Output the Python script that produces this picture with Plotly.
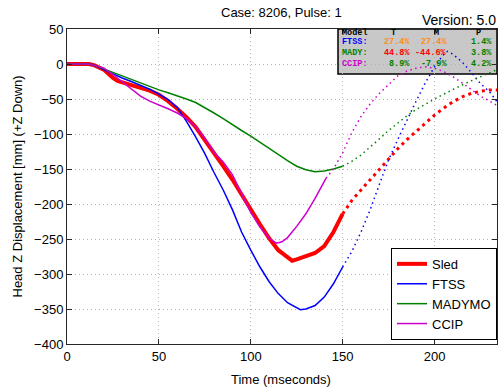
import plotly.graph_objects as go

# ---------------- data ----------------
sled_t = [0, 5, 10, 12, 15, 17.5, 20, 22.5, 25, 27.5, 30, 35, 40, 45, 50, 55, 60, 65, 70, 75, 80, 85, 90, 95, 100,
          105, 110, 113, 115, 118, 120, 122.5, 125, 130, 135, 140, 142, 145, 150,
          155, 160, 165, 170, 175, 180, 185, 190, 195, 200, 205, 210, 215, 220, 225, 230, 234]
sled_z = [0, 0, 0, 0, -2, -5, -8, -14, -20, -24, -26, -29, -33, -38, -44, -53, -64, -76, -90, -108, -128, -146, -165, -187, -207,
          -229, -249, -260, -266, -272, -276, -281, -279, -274, -270, -260, -252, -240, -214,
          -195, -180, -165, -150, -135, -121, -108, -96, -84, -73, -63, -54, -47, -42, -39, -37, -37]
sled_end = 150

ftss_t = [0, 10, 12, 15, 20, 25, 30, 35, 40, 45, 50, 55, 60, 65, 70, 75, 80, 85, 90, 95, 100, 105, 110, 115, 120,
          125, 127, 130, 135, 140, 145, 150,
          155, 160, 165, 170, 175, 180, 185, 190, 195, 200, 205, 207, 210, 215, 220, 225, 230, 234]
ftss_z = [0, 0, 0, -2, -8, -15, -20, -25, -30, -36, -43, -51, -62, -82, -104, -128, -155, -180, -208, -240, -266, -290, -311, -328, -341,
          -349, -351, -350, -345, -333, -314, -290,
          -268, -240, -208, -172, -137, -108, -80, -53, -27, -4, 14, 18, 14, 3, -12, -28, -40, -54]
ftss_end = 150

mady_t = [0, 12, 15, 20, 25, 30, 35, 40, 45, 50, 55, 60, 65, 70, 75, 80, 85, 90, 95, 100, 105, 110, 115, 120, 125,
          130, 135, 140, 145, 150,
          155, 160, 165, 170, 175, 180, 185, 190, 195, 200, 205, 210, 215, 220, 225, 230, 234]
mady_z = [0, 0, -2, -7, -13, -18, -23, -28, -32, -37, -41, -45, -50, -55, -62, -70, -78, -87, -95, -103, -112, -121, -130, -138, -146,
          -151, -154, -153, -150, -146,
          -139, -130, -119, -107, -95, -84, -74, -65, -57, -50, -43, -36, -30, -24, -18, -12, -8]
mady_end = 150

ccip_t = [0, 12, 15, 20, 25, 30, 35, 40, 45, 50, 55, 60, 65, 70, 75, 80, 85, 90, 95, 100, 105, 110, 114, 117, 120,
          125, 130, 135, 141,
          145, 150, 155, 160, 165, 170, 175, 180, 185, 190, 195, 200, 205, 210, 215, 220, 225, 230, 234]
ccip_z = [0, 0, -2, -6, -15, -25, -36, -46, -53, -58, -64, -70, -78, -90, -106, -126, -140, -158, -186, -212, -233, -249, -256, -254, -248,
          -232, -214, -192, -163,
          -150, -127, -98, -75, -57, -42, -29, -17, -10, -6, -4, -6, -11, -18, -27, -37, -46, -53, -59]
ccip_end = 141

table_models = ["FTSS:", "MADY:", "CCIP:"]
table_T = ["27.4%", "44.8%", "8.9%"]
table_M = ["27.4%", "-44.6%", "-7.9%"]
table_P = ["1.4%", "3.8%", "4.2%"]
table_headers = ["Model", "T", "M", "P"]

# ---------------- styles ----------------
W, H = 502, 387
L, R, T, B = 67, 497, 29, 344
PW, PH = R - L, B - T


def px(x):
    return (x - L) / PW


def py(y):
    return (B - y) / PH


series = [
    ("Sled", sled_t, sled_z, sled_end, "#ff0000", 4.0, 3.0, "3px,4px"),
    ("FTSS", ftss_t, ftss_z, ftss_end, "#0000ff", 1.5, 1.5, "1.5px,3.5px"),
    ("MADYMO", mady_t, mady_z, mady_end, "#008000", 1.5, 1.5, "1.5px,3.5px"),
    ("CCIP", ccip_t, ccip_z, ccip_end, "#cc00cc", 1.5, 1.5, "1.5px,3.5px"),
]

fig = go.Figure()
for name, t, z, tend, col, w, wd, dsh in series:
    ts = [a for a in t if a <= tend]
    zs = [b for a, b in zip(t, z) if a <= tend]
    td = [a for a in t if a >= tend]
    zd = [b for a, b in zip(t, z) if a >= tend]
    fig.add_trace(go.Scatter(x=ts, y=zs, mode="lines", name=name,
                             line=dict(color=col, width=w)))
    fig.add_trace(go.Scatter(x=td, y=zd, mode="lines", showlegend=False,
                             line=dict(color=col, width=wd, dash=dsh)))

font = "Arial, Liberation Sans, sans-serif"
axis_common = dict(showline=True, linecolor="#262626", linewidth=1, mirror="ticks",
                   ticks="inside", ticklen=5, tickcolor="#262626",
                   showgrid=True, gridcolor="#b4b4b4", griddash="1px,3px", gridwidth=1,
                   zeroline=False, tickfont=dict(family=font, size=13, color="black"))

fig.update_layout(
    width=W, height=H,
    margin=dict(l=L, r=W - R, t=T, b=H - B),
    paper_bgcolor="white", plot_bgcolor="white",
    xaxis=dict(range=[0, 234], dtick=50, tick0=0, **axis_common),
    yaxis=dict(range=[-400, 50], dtick=50, tick0=0, **axis_common),
    legend=dict(x=1.0, y=0.013, xanchor="right", yanchor="bottom",
                bgcolor="white", bordercolor="black", borderwidth=1,
                font=dict(family=font, size=13, color="black"),
                itemwidth=30, tracegroupgap=0),
    showlegend=True,
)

# table box (drawn above grid, below traces)
fig.add_shape(type="rect", xref="paper", yref="paper",
              x0=px(338), x1=px(497), y0=py(74), y1=py(29),
              fillcolor="#c8c8c8", line=dict(color="black", width=1.5), layer="between")

mono = "Courier New, Liberation Mono, monospace"
row_y = [42.5, 53, 63.5]
label_cols = ["#0000ff", "#008000", "#cc00cc"]
T_cols = ["#ff8c1a", "#ff0000", "#008000"]
M_cols = ["#ff8c1a", "#ff0000", "#008000"]
P_cols = ["#008000", "#008000", "#008000"]


def ann(text, x, y, col, anchor="left", size=8.5, fam=mono):
    fig.add_annotation(text=text, x=px(x), y=py(y), xref="paper", yref="paper",
                       xanchor=anchor, yanchor="middle", showarrow=False,
                       font=dict(family=fam, size=size, color=col))


ann("<b>%s</b>" % table_headers[0], 340, 33, "black")
ann("<b>%s</b>" % table_headers[1], 393, 33, "black", "center")
ann("<b>%s</b>" % table_headers[2], 436, 33, "black", "center")
ann("<b>%s</b>" % table_headers[3], 478, 33, "black", "center")
for i in range(3):
    ann("<b>%s</b>" % table_models[i], 340, row_y[i], label_cols[i])
    ann("<b>%s</b>" % table_T[i], 412, row_y[i], T_cols[i], "right")
    ann("<b>%s</b>" % table_M[i], 449, row_y[i], M_cols[i], "right")
    ann("<b>%s</b>" % table_P[i], 494, row_y[i], P_cols[i], "right")

# titles
ann("Case: 8206, Pulse: 1", 281, 13, "black", "center", 13, font)
ann("Version: 5.0", 498, 20, "black", "right", 14, font)
ann("Time (mseconds)", 281, 379, "black", "center", 13, font)
fig.add_annotation(text="Head Z Displacement [mm] (+Z Down)", x=px(17), y=py(186.5),
                   xref="paper", yref="paper", textangle=-90, showarrow=False,
                   xanchor="center", yanchor="middle",
                   font=dict(family=font, size=13, color="black"))

fig.write_html("out.html", config={"displayModeBar": False},
               post_script="document.body.style.margin='0';document.body.style.padding='0';")
